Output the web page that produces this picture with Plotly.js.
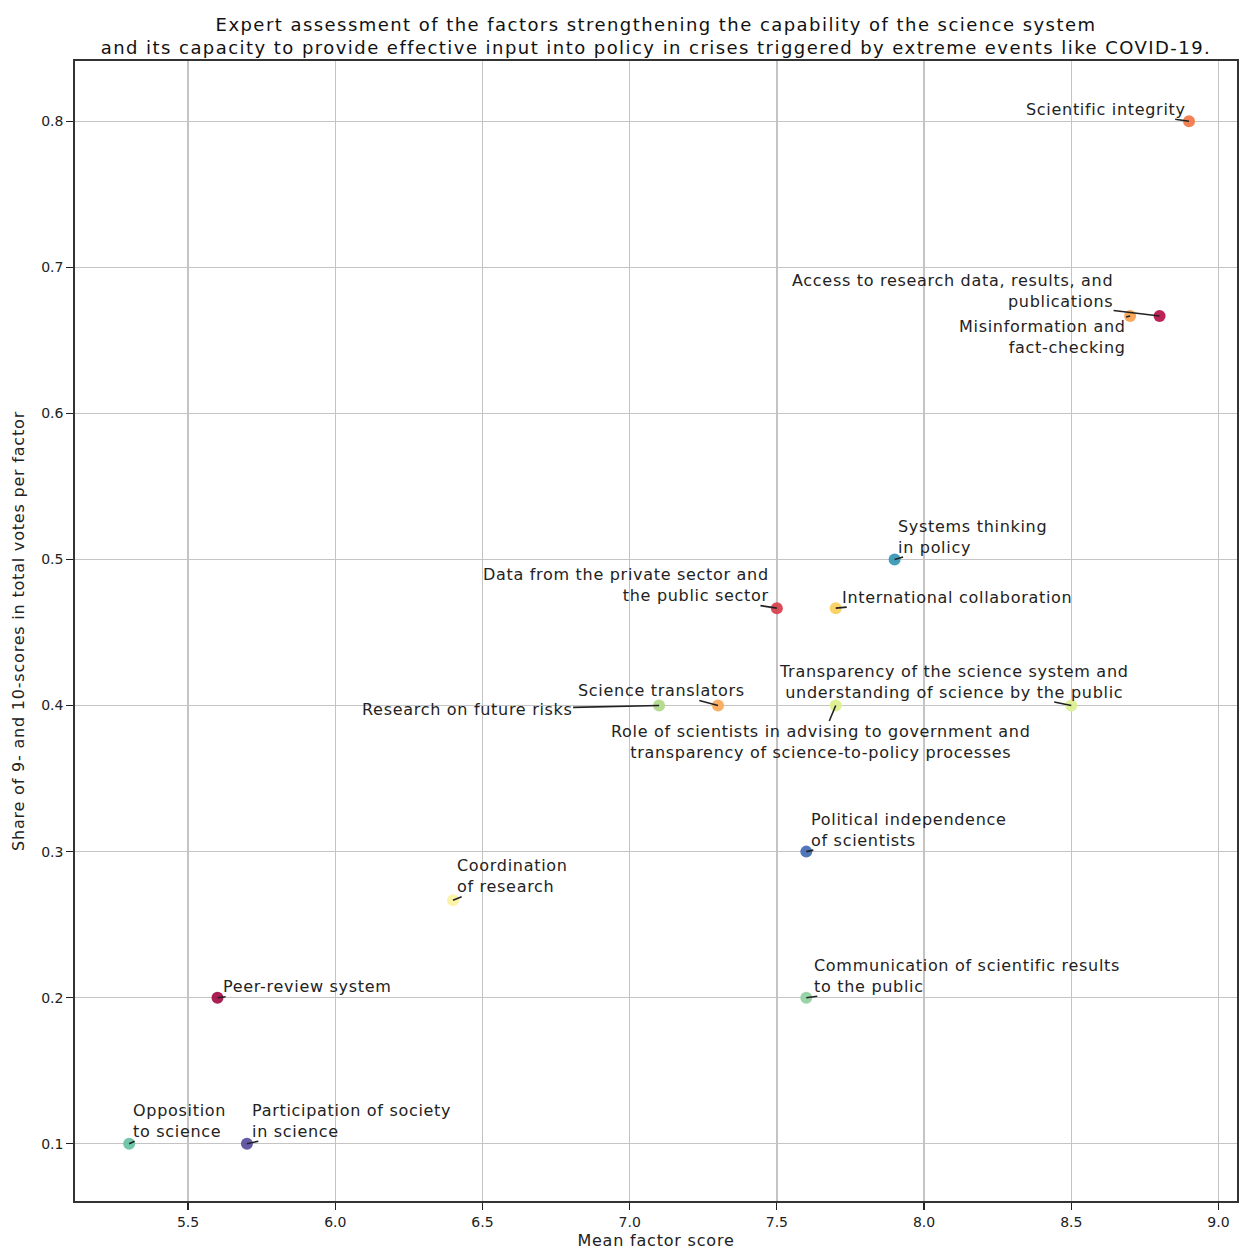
<!DOCTYPE html>
<html>
<head>
<meta charset="utf-8">
<script src="https://cdn.plot.ly/plotly-3.0.1.min.js"></script>
<style>
html,body{margin:0;padding:0;background:#fff;}
#chart{width:1245px;height:1257px;}
.gtitle{letter-spacing:1.45px;}
.annotation-text{letter-spacing:0.7px;}
.xtitle,.ytitle{letter-spacing:0.8px;}
</style>
</head>
<body>
<div id="chart"></div>
<script>
// ---- data ----
const factors = [
  "Scientific integrity",
  "Access to research data, results, and<br>publications",
  "Misinformation and<br>fact-checking",
  "Systems thinking<br>in policy",
  "Data from the private sector and<br>the public sector",
  "International collaboration",
  "Science translators",
  "Research on future risks",
  "Role of scientists in advising to government and<br>transparency of science-to-policy processes",
  "Transparency of the science system and<br>understanding of science by the public",
  "Political independence<br>of scientists",
  "Coordination<br>of research",
  "Communication of scientific results<br>to the public",
  "Peer-review system",
  "Opposition<br>to science",
  "Participation of society<br>in science"
];
const meanScore = [8.9, 8.8, 8.7, 7.9, 7.5, 7.7, 7.3, 7.1, 7.7, 8.5, 7.6, 6.4, 7.6, 5.6, 5.3, 5.7];
const shareTop = [0.8, 0.6667, 0.6667, 0.5, 0.4667, 0.4667, 0.4, 0.4, 0.4, 0.4, 0.3, 0.2667, 0.2, 0.2, 0.1, 0.1];
const xTicks = [5.5, 6.0, 6.5, 7.0, 7.5, 8.0, 8.5, 9.0];
const yTicks = [0.1, 0.2, 0.3, 0.4, 0.5, 0.6, 0.7, 0.8];

// ---- styles (kept apart from the data) ----
const pointColors = ["#f27a4b", "#b8174d", "#f8a453", "#3a98b5", "#d8434f", "#f9d061", "#f9ab5c",
  "#b2da8c", "#dcee8e", "#dcef92", "#4870b6", "#fbf2a2", "#92d2a2", "#a5134a", "#6cc3a4", "#5d52a0"];
// label text-box centre offsets (pixels) and alignment
const labelOffsets = [[-83,-12],[-207,-25],[-88,21],[78,-23],[-151,-23],[121,-11],[-56,-15],[-192,4],
  [-15,36],[-117,-24],[103,-22],[59,-24],[161,-22],[90,-11],[50,-23],[105,-23]];
const labelAlign = ["right","right","right","left","right","left","center","right",
  "center","center","left","left","left","left","left","left"];

const font = "DejaVu Sans, sans-serif";

const trace = {
  type: "scatter",
  mode: "markers",
  x: meanScore,
  y: shareTop,
  marker: {size: 12, color: pointColors, opacity: 0.95, line: {width: 0}},
  hoverinfo: "skip"
};

const annotations = factors.map((t, i) => ({
  x: meanScore[i], y: shareTop[i], xref: "x", yref: "y",
  text: t, align: labelAlign[i],
  showarrow: true, arrowhead: 0, arrowwidth: 1.6, arrowcolor: "#222",
  ax: labelOffsets[i][0], ay: labelOffsets[i][1],
  standoff: 0, startstandoff: 0,
  font: {family: font, size: 16, color: "#222"},
  borderpad: 0
}));

const layout = {
  width: 1245, height: 1257,
  margin: {l: 75, r: 8, t: 61, b: 56},
  paper_bgcolor: "#fff", plot_bgcolor: "#fff",
  showlegend: false,
  title: {
    text: "Expert assessment of the factors strengthening the capability of the science system<br>and its capacity to provide effective input into policy in crises triggered by extreme events like COVID-19.",
    font: {family: font, size: 18, color: "#111"},
    x: 0.5, xref: "paper", xanchor: "center",
    y: 0.9753, yref: "container", yanchor: "middle"
  },
  xaxis: {
    range: [5.116, 9.063],
    tickvals: xTicks, ticktext: xTicks.map(v => v.toFixed(1)),
    ticks: "outside", ticklen: 7, tickwidth: 1.2, tickcolor: "#222",
    showgrid: true, gridcolor: "#c4c4c4", gridwidth: 1.5,
    showline: true, mirror: true, linecolor: "#333", linewidth: 1.8,
    zeroline: false,
    tickfont: {family: font, size: 14, color: "#222"},
    title: {text: "Mean factor score", font: {family: font, size: 16, color: "#222"}, standoff: 6}
  },
  yaxis: {
    range: [0.0608, 0.8413],
    tickvals: yTicks, ticktext: yTicks.map(v => v.toFixed(1)),
    ticks: "outside", ticklen: 7, tickwidth: 1.2, tickcolor: "#222",
    showgrid: true, gridcolor: "#c4c4c4", gridwidth: 1.5,
    showline: true, mirror: true, linecolor: "#333", linewidth: 1.8,
    zeroline: false,
    tickfont: {family: font, size: 14, color: "#222"},
    title: {text: "Share of 9- and 10-scores in total votes per factor", font: {family: font, size: 16, color: "#222"}, standoff: 12}
  },
  annotations: annotations
};

Plotly.newPlot("chart", [trace], layout, {staticPlot: true, displayModeBar: false});
</script>
</body>
</html>
